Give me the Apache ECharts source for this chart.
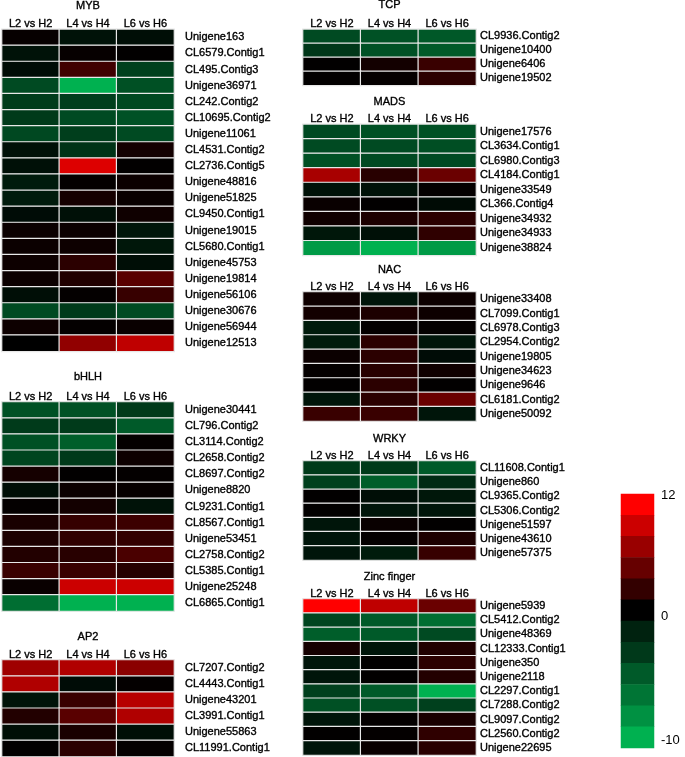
<!DOCTYPE html>
<html>
<head>
<meta charset="utf-8">
<script src="https://cdn.jsdelivr.net/npm/echarts@6/dist/echarts.min.js"></script>
<style>
html,body{margin:0;padding:0;background:#fff;}
#c{width:685px;height:757px;}
</style>
</head>
<body>
<div id="c"></div>
<script>
const columns = ['L2 vs H2', 'L4 vs H4', 'L6 vs H6'];

const mybGenes = ['Unigene163','CL6579.Contig1','CL495.Contig3','Unigene36971','CL242.Contig2','CL10695.Contig2','Unigene11061','CL4531.Contig2','CL2736.Contig5','Unigene48816','Unigene51825','CL9450.Contig1','Unigene19015','CL5680.Contig1','Unigene45753','Unigene19814','Unigene56106','Unigene30676','Unigene56944','Unigene12513'];
const mybValues = [
  [0.3,-1.0,-0.8],[-1.0,0.3,0.1],[-0.7,3.0,-3.6],[-4.2,-10,-4.5],[-3.4,-3.5,-4.1],
  [-3.3,-4.2,-4.6],[-4.1,-3.5,-4.2],[-0.9,-2.9,0.9],[-0.9,10.4,0.1],[-1.5,0.2,0.5],
  [-1.5,1.0,0.4],[-0.7,-0.9,0.7],[0.5,0.5,-1.2],[0.5,0.6,-1.3],[0.6,2.0,-0.8],
  [0.5,1.5,4.2],[-0.8,0.2,2.6],[-4.2,-3.3,-4.2],[0.6,0.2,0.4],[0,6.8,9.0]
];

const bhlhGenes = ['Unigene30441','CL796.Contig2','CL3114.Contig2','CL2658.Contig2','CL8697.Contig2','Unigene8820','CL9231.Contig1','CL8567.Contig1','Unigene53451','CL2758.Contig2','CL5385.Contig1','Unigene25248','CL6865.Contig1'];
const bhlhValues = [
  [-4.6,-4.6,-3.3],[-3.3,-3.3,-5.1],[-4.5,-5.3,0.2],[-3.9,-3.3,0.6],[1.0,0.1,0.2],
  [-0.8,0.5,0.3],[0.2,0.9,-1.0],[1.2,2.5,2.8],[1.3,2.3,2.4],[1.6,1.9,3.5],
  [2.7,2.7,1.8],[0.4,9.6,9.6],[-6.2,-10,-10]
];

const ap2Genes = ['CL7207.Contig2','CL4443.Contig1','Unigene43201','CL3991.Contig1','Unigene55863','CL11991.Contig1'];
const ap2Values = [
  [7.5,8.3,6.5],[8.3,-0.7,0.2],[-1.1,2.7,8.6],[1.6,4.2,8.3],[-0.8,1.2,-0.8],[0.1,2.0,0.2]
];

const tcpGenes = ['CL9936.Contig2','Unigene10400','Unigene6406','Unigene19502'];
const tcpValues = [[-4.2,-4.6,-5.0],[-3.1,-4.6,-5.1],[0.1,0.9,2.7],[0.1,0.2,2.0]];

const madsGenes = ['Unigene17576','CL3634.Contig1','CL6980.Contig3','CL4184.Contig1','Unigene33549','CL366.Contig4','Unigene34932','Unigene34933','Unigene38824'];
const madsValues = [
  [-4.2,-4.5,-4.5],[-4.2,-4.2,-4.4],[-4.5,-4.2,-4.2],[7.9,1.9,5.0],[-1.0,-1.0,0.2],
  [0.4,0.1,-0.6],[0.7,1.3,2.0],[-1.3,-0.9,2.2],[-8.7,-10,-8.7]
];

const nacGenes = ['Unigene33408','CL7099.Contig1','CL6978.Contig3','CL2954.Contig2','Unigene19805','Unigene34623','Unigene9646','CL6181.Contig2','Unigene50092'];
const nacValues = [
  [0.7,-1.2,0.6],[0.9,1.3,0.6],[-1.5,0.2,0.2],[-1.5,2.0,-1.2],[0.5,2.0,-0.7],
  [0.2,1.9,0.7],[0.1,2.0,0.1],[-1.2,2.0,5.0],[2.7,2.7,-1.2]
];

const wrkyGenes = ['CL11608.Contig1','Unigene860','CL9365.Contig2','CL5306.Contig2','Unigene51597','Unigene43610','Unigene57375'];
const wrkyValues = [
  [-3.3,-3.3,-5.1],[-3.6,-5.3,-2.4],[0.1,-0.8,-1.3],[0.1,-1.2,-1.2],[-1.2,0.4,0.1],
  [-1.2,0.2,1.3],[-1.2,-1.5,2.6]
];

const zincGenes = ['Unigene5939','CL5412.Contig2','Unigene48369','CL12333.Contig1','Unigene350','Unigene2118','CL2297.Contig1','CL7288.Contig2','CL9097.Contig2','CL2560.Contig2','Unigene22695'];
const zincValues = [
  [12,9.0,5.0],[-3.9,-5.1,-6.2],[-5.3,-5.1,-4.2],[1.0,-1.2,1.5],[-1.2,0.1,2.0],
  [-1.2,0.1,1.6],[-3.6,-5.1,-10],[-4.5,-4.5,-3.6],[-1.2,0.2,1.2],[0.1,0.2,2.2],[-1.2,0.4,1.9]
];

const legendValues = [12, 9.6, 7.2, 4.8, 2.4, 0, -1.9, -3.2, -5.1, -6.6, -8.2, -10];
const legendTicks = ['12', '', '', '', '', '0', '', '', '', '', '', '-10'];

// layout (positions only)
const panels = [
  {title:'MYB', genes:mybGenes, values:mybValues, left:2, top:29.3, width:172, height:322, titleY:6, margin:11},
  {title:'bHLH', genes:bhlhGenes, values:bhlhValues, left:2, top:402, width:172, height:209, titleY:377, margin:11},
  {title:'AP2', genes:ap2Genes, values:ap2Values, left:2, top:660, width:172, height:96.5, titleY:637, margin:11},
  {title:'TCP', genes:tcpGenes, values:tcpValues, left:303, top:29.3, width:173, height:56, titleY:5, margin:4},
  {title:'MADS', genes:madsGenes, values:madsValues, left:303, top:124.3, width:173, height:131, titleY:102, margin:4},
  {title:'NAC', genes:nacGenes, values:nacValues, left:303, top:292, width:173, height:129, titleY:270, margin:4},
  {title:'WRKY', genes:wrkyGenes, values:wrkyValues, left:303, top:461, width:173, height:99, titleY:439, margin:4},
  {title:'Zinc finger', genes:zincGenes, values:zincValues, left:303, top:599, width:173, height:156, titleY:577, margin:4}
];

const FONT = "'Liberation Sans', Arial, sans-serif";
const TXT = {fontFamily:FONT, fontSize:11, fontWeight:'normal', color:'#000', textBorderColor:'#000', textBorderWidth:0.35};
const grid = [], xAxis = [], yAxis = [], series = [], title = [];

panels.forEach((p, i) => {
  grid.push({left:p.left, top:p.top, width:p.width, height:p.height, containLabel:false});
  title.push({
    text:p.title, left:p.left + p.width/2, top:p.titleY - 6, textAlign:'center', padding:0,
    textStyle:Object.assign({}, TXT)
  });
  xAxis.push({
    type:'category', gridIndex:i, data:columns, position:'top',
    axisLine:{show:false}, axisTick:{show:false}, splitLine:{show:false},
    axisLabel:Object.assign({margin:0, interval:0}, TXT)
  });
  yAxis.push({
    type:'category', gridIndex:i, data:p.genes, inverse:true, position:'right',
    axisLine:{show:false}, axisTick:{show:false}, splitLine:{show:false},
    axisLabel:Object.assign({margin:p.margin, interval:0}, TXT)
  });
  const data = [];
  p.values.forEach((row, r) => row.forEach((v, c) => data.push([c, r, v])));
  series.push({
    type:'heatmap', xAxisIndex:i, yAxisIndex:i, data:data,
    itemStyle:{borderColor:'#e8e8e8', borderWidth:1.2},
    emphasis:{disabled:true}, silent:true
  });
});

// legend colour bar
const li = panels.length;
const LTXT = {fontFamily:FONT, fontSize:13, color:'#000'};
grid.push({left:621, top:494, width:33, height:254});
xAxis.push({type:'category', gridIndex:li, data:[''], show:false});
yAxis.push({
  type:'category', gridIndex:li, data:legendValues.map((v, k) => k), inverse:true, position:'right',
  axisLine:{show:false}, axisTick:{show:false}, splitLine:{show:false},
  axisLabel:{
    fontFamily:FONT, fontSize:13, color:'#000', margin:7, interval:0,
    formatter:(v, idx) => {
      const t = legendTicks[idx];
      if (!t) return '';
      if (idx === 0) return '{up|' + t + '}';
      if (idx === legendTicks.length - 1) return '{dn|' + t + '}';
      return '{mid|' + t + '}';
    },
    rich:{
      up:Object.assign({padding:[0,0,18,0]}, LTXT),
      mid:Object.assign({padding:[13,0,0,0]}, LTXT),
      dn:Object.assign({padding:[6,0,0,0]}, LTXT)
    }
  }
});
series.push({
  type:'heatmap', xAxisIndex:li, yAxisIndex:li,
  data:legendValues.map((v, k) => [0, k, v]),
  itemStyle:{borderWidth:0}, emphasis:{disabled:true}, silent:true
});

const chart = echarts.init(document.getElementById('c'), null, {renderer:'canvas'});
chart.setOption({
  backgroundColor:'#fff',
  animation:false,
  title:title,
  grid:grid, xAxis:xAxis, yAxis:yAxis,
  visualMap:{
    type:'continuous', show:false, min:-12, max:12,
    seriesIndex:series.map((s, k) => k),
    inRange:{color:['#00d460', '#000000', '#ff0000']}
  },
  series:series
});
</script>
</body>
</html>
